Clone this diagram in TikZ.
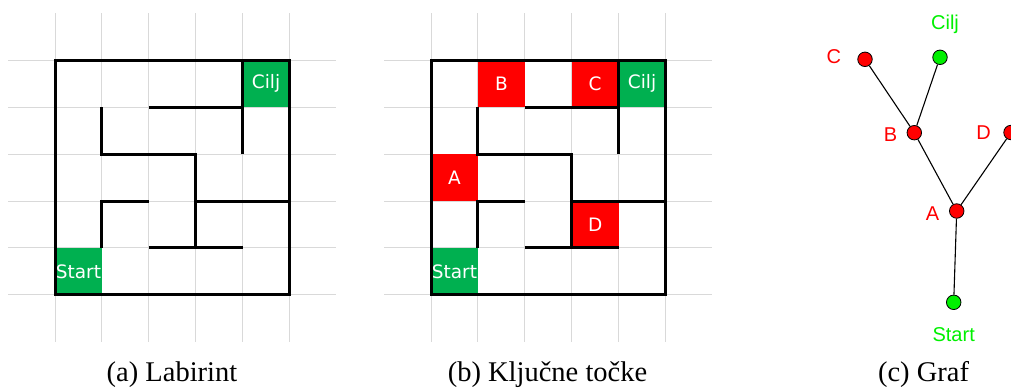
\documentclass[tikz,border=0pt]{standalone}
\usepackage{fontspec}
\setmainfont{Liberation Serif}
\setsansfont{Liberation Sans}
\newfontfamily\cellfont{DejaVu Sans}
\usetikzlibrary{positioning}
\definecolor{gridgray}{RGB}{217,217,217}
\definecolor{cellgreen}{RGB}{0,176,80}
\definecolor{keyred}{RGB}{255,0,0}
\definecolor{nodegreen}{RGB}{0,240,0}
\tikzset{
	gridline/.style = { color=gridgray, line width=1pt },
	wall/.style     = { color=black, line width=3pt },
	cell/.style     = { minimum size=46.9pt, inner sep=0pt, text=white, font=\cellfont\fontsize{18.5}{19}\selectfont },
	goalcell/.style = { cell, fill=cellgreen },
	keycell/.style  = { cell, fill=keyred },
	vertex/.style   = { circle, draw=black, line width=0.8pt, minimum size=14.5pt, inner sep=0pt },
	edge/.style     = { color=black, line width=1.1pt },
	glabel/.style   = { font=\sffamily\fontsize{20}{20}\selectfont, inner sep=0pt },
	caption/.style  = { font=\fontsize{28.5}{30}\selectfont, anchor=base },
}

\begin{document}
\begin{tikzpicture}[x=1pt, y=-1pt]
\useasboundingbox (0,0) rectangle (1011,389);
\foreach \px/\p in {55/a,431/b}
{
	\begin{scope}[shift={(\px,60.3)}, x=46.9pt, y=-46.9pt]
		\foreach \k in {0,...,5}
		{
			\draw[gridline] (\k,-1) -- (\k,6);
			\draw[gridline] (-1,\k) -- (6,\k);
		}
		\node[goalcell] (\p-start) at (0.5,4.5) {Start};
		\node[goalcell] (\p-cilj)  at (4.5,0.5) {Cilj};
		\ifnum\px=431
			\node[keycell] (\p-a) at (0.5,2.5) {A};
			\node[keycell] (\p-b) at (1.5,0.5) {B};
			\node[keycell] (\p-c) at (3.5,0.5) {C};
			\node[keycell] (\p-d) at (3.5,3.5) {D};
		\fi
		\draw[wall] (0,0) rectangle (5,5);
		\draw[wall] (4,0) -- (4,2);
		\draw[wall] (2,1) -- (4,1);
		\draw[wall] (1,1) -- (1,2) -- (3,2) -- (3,4);
		\draw[wall] (2,3) -- (1,3) -- (1,4);
		\draw[wall] (3,3) -- (5,3);
		\draw[wall] (2,4) -- (4,4);
	\end{scope}
}

\node[vertex, fill=keyred]    (g-c)     at (865,59.3)    {};
\node[vertex, fill=nodegreen] (g-cilj)  at (940,57.3)    {};
\node[vertex, fill=keyred]    (g-b)     at (914.3,132.7) {};
\node[vertex, fill=keyred]    (g-d)     at (1011,132.5)  {};
\node[vertex, fill=keyred]    (g-a)     at (956.7,211)   {};
\node[vertex, fill=nodegreen] (g-start) at (953.7,302.3) {};

\draw[edge] (g-c) -- (g-b);
\draw[edge] (g-cilj) -- (g-b);
\draw[edge] (g-b) -- (g-a);
\draw[edge] (g-d) -- (g-a);
\draw[edge] (g-a) -- (g-start);

\node[glabel, text=keyred, left=16pt of g-c, yshift=3pt]      (l-c)     {C};
\node[glabel, text=nodegreen, above=16pt of g-cilj, xshift=5pt] (l-cilj) {Cilj};
\node[glabel, text=keyred, left=9.3pt of g-b, yshift=-2pt]    (l-b)     {B};
\node[glabel, text=keyred, left=12.3pt of g-d]                (l-d)     {D};
\node[glabel, text=keyred, left=9.7pt of g-a, yshift=-2.7pt]  (l-a)     {A};
\node[glabel, text=nodegreen, below=17.3pt of g-start]        (l-start) {Start};

\node[caption] (cap-a) at (172,381.7)   {(a) Labirint};
\node[caption] (cap-b) at (547.5,381.7) {(b) Ključne točke};
\node[caption] (cap-c) at (923.5,381.7) {(c) Graf};
\end{tikzpicture}
\end{document}
